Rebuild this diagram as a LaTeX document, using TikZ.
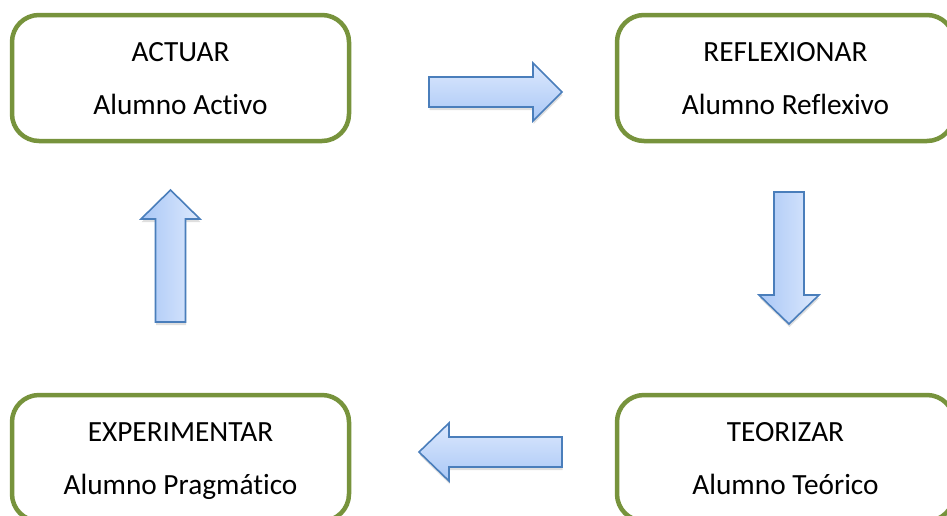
\documentclass[tikz,border=0pt]{standalone}
\usepackage{fontspec}
\setmainfont{Carlito}[Ligatures=NoCommon]
\usetikzlibrary{shadows}

\definecolor{verdeborde}{HTML}{77933C}
\definecolor{azulborde}{HTML}{4A7EBB}
\definecolor{azuloscuro}{HTML}{A9C7F6}
\definecolor{azulclaro}{HTML}{DDE9FD}

\tikzset{
	etapa/.style={draw=verdeborde,line width=4.5pt,rounded corners=27pt,fill=white,
		minimum width=337pt,minimum height=126pt,inner sep=0pt},
	texto/.style={anchor=base,inner sep=0pt,font=\fontsize{29.3}{35}\selectfont},
	flecha/.style={draw=azulborde,line width=1.6pt,line join=miter,
		drop shadow={shadow xshift=0.5pt,shadow yshift=-3pt,opacity=0.25}},
}

\begin{document}
\begin{tikzpicture}[x=1pt,y=-1pt]
		\useasboundingbox (0,0) rectangle (947,515);
		\clip (0,0) rectangle (947,515);
		% etapas del ciclo
		\node[etapa] (actuar) at (180.5,78) {};
		\node[etapa] (reflexionar) at (785.5,78) {};
		\node[etapa] (teorizar) at (785.5,458) {};
		\node[etapa] (experimentar) at (180.5,458) {};
		\node[texto] at ([yshift=17pt]actuar.center) {ACTUAR};
		\node[texto] at ([yshift=-36pt]actuar.center) {Alumno Activo};
		\node[texto] at ([yshift=17pt]reflexionar.center) {REFLEXIONAR};
		\node[texto] at ([yshift=-36pt]reflexionar.center) {Alumno Reflexivo};
		\node[texto] at ([yshift=17pt]teorizar.center) {TEORIZAR};
		\node[texto] at ([yshift=-36pt]teorizar.center) {Alumno Teórico};
		\node[texto] at ([yshift=17pt]experimentar.center) {EXPERIMENTAR};
		\node[texto] at ([yshift=-36pt]experimentar.center) {Alumno Pragmático};
		% flechas
		\draw[flecha,top color=azulclaro,bottom color=azuloscuro]
			(429,77) -- (533,77) -- (533,63) -- (562,92) -- (533,121) -- (533,107) -- (429,107) -- cycle;
		\draw[flecha,left color=azuloscuro,right color=azulclaro]
			(774,192) -- (804,192) -- (804,295) -- (819,295) -- (789,324) -- (759,295) -- (774,295) -- cycle;
		\draw[flecha,top color=azulclaro,bottom color=azuloscuro]
			(562,437) -- (449,437) -- (449,423) -- (419,452) -- (449,481) -- (449,467) -- (562,467) -- cycle;
		\draw[flecha,left color=azuloscuro,right color=azulclaro]
			(155.5,322) -- (155.5,219) -- (141,219) -- (170.5,190) -- (200,219) -- (185.5,219) -- (185.5,322) -- cycle;
	\end{tikzpicture}
\end{document}
